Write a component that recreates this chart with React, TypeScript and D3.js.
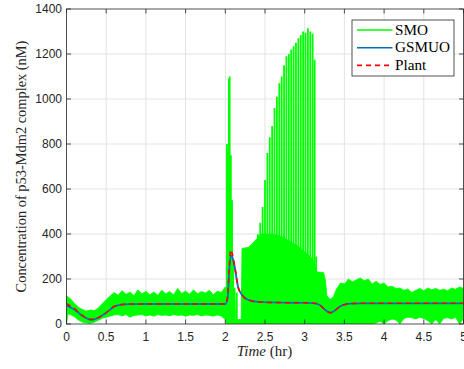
import React from "react";
import * as d3 from "d3";

// SMO band envelope
const smoT = [0, 0.02, 0.05, 0.1, 0.15, 0.2, 0.25, 0.3, 0.35, 0.4, 0.45, 0.5, 0.55, 0.6, 0.65, 0.7, 0.75, 0.8, 0.85, 0.9, 0.95, 1.0, 1.05, 1.1, 1.15, 1.2, 1.25, 1.3, 1.35, 1.4, 1.45, 1.5, 1.55, 1.6, 1.65, 1.7, 1.75, 1.8, 1.85, 1.9, 1.95, 2.0, 2.02, 2.12, 2.13, 2.2, 2.21, 2.3, 2.4, 2.45, 2.5, 2.6, 2.7, 2.8, 2.9, 3.0, 3.1, 3.12, 3.15, 3.24, 3.26, 3.28, 3.32, 3.36, 3.4, 3.45, 3.5, 3.55, 3.6, 3.65, 3.7, 3.75, 3.8, 3.85, 3.9, 3.95, 4.0, 4.05, 4.1, 4.15, 4.2, 4.25, 4.3, 4.35, 4.4, 4.45, 4.5, 4.55, 4.6, 4.65, 4.7, 4.75, 4.8, 4.85, 4.9, 4.95, 5.0];
const smoHigh = [126, 120, 112, 92, 74, 64, 58, 62, 60, 70, 90, 108, 124, 140, 128, 148, 132, 142, 126, 152, 134, 146, 130, 142, 128, 150, 134, 144, 130, 158, 136, 146, 132, 152, 134, 144, 138, 150, 130, 146, 140, 165, 150, 150, 20, 20, 335, 342, 380, 400, 400, 400, 390, 370, 350, 320, 290, 260, 232, 228, 196, 125, 110, 120, 155, 182, 178, 200, 188, 196, 205, 192, 200, 178, 190, 176, 182, 165, 168, 158, 160, 150, 156, 140, 150, 158, 148, 160, 152, 158, 150, 155, 148, 160, 155, 165, 158];
const smoLow = [0, 45, 42, 32, 18, 8, 5, 3, 8, 16, 26, 30, 35, 40, 42, 36, 42, 30, 38, 40, 42, 36, 40, 35, 42, 38, 40, 36, 42, 38, 40, 35, 40, 38, 42, 36, 40, 38, 35, 40, 35, 20, 0, 0, 0, 0, 0, 0, 0, 0, 0, 0, 0, 0, 0, 0, 0, 0, 0, 0, 0, 0, 0, 0, 0, 0, 0, 0, 0, 0, 0, 0, 0, 0, 5, 12, 0, 15, 22, 18, 0, 25, 30, 28, 22, 30, 25, 15, 0, 20, 0, 25, 28, 22, 30, 0, 25];

// SMO chattering spikes
const spikeT = [2.02, 2.035, 2.045, 2.055, 2.07, 2.085, 2.1, 2.115, 2.145, 2.41, 2.44, 2.47, 2.5, 2.53, 2.56, 2.59, 2.62, 2.65, 2.68, 2.71, 2.74, 2.77, 2.8, 2.83, 2.86, 2.89, 2.92, 2.95, 2.98, 3.01, 3.04, 3.07, 3.1, 3.125, 3.145];
const spikePeak = [800, 780, 1090, 1100, 750, 550, 290, 160, 140, 400, 450, 520, 640, 760, 830, 880, 960, 1010, 1070, 1100, 1150, 1190, 1200, 1220, 1235, 1250, 1270, 1285, 1300, 1295, 1315, 1300, 1290, 1175, 300];

// GSMUO and Plant
const ctrlT = [0, 0.1, 0.2, 0.3, 0.35, 0.4, 0.5, 0.6, 0.7, 0.8, 1.0, 1.5, 2.0, 2.03, 2.05, 2.07, 2.09, 2.12, 2.16, 2.21, 2.29, 2.42, 2.7, 3.05, 3.13, 3.19, 3.26, 3.32, 3.38, 3.44, 3.51, 3.57, 3.7, 4.0, 4.5, 5.0];
const plant = [90, 68, 38, 20, 21, 28, 50, 78, 87, 89, 89, 89, 89, 130, 260, 330, 310, 253, 166, 129, 107, 98, 95, 94, 92, 84, 62, 50, 60, 77, 87, 91, 92, 92, 92, 92];
const gsmuo = [82, 64, 36, 20, 21, 28, 50, 77, 86, 88, 89, 89, 89, 115, 240, 305, 295, 250, 166, 129, 107, 98, 95, 94, 92, 84, 62, 50, 60, 77, 87, 91, 92, 92, 92, 92];

const xTicks = [0, 0.5, 1, 1.5, 2, 2.5, 3, 3.5, 4, 4.5, 5];
const yTicks = [0, 200, 400, 600, 800, 1000, 1200, 1400];

const legendNames = ["SMO", "GSMUO", "Plant"];

const W = 464;
const H = 369;
const margin = { top: 9, right: 0.5, bottom: 45, left: 66.5 };
const axisColor = "#262626";
const gridColor = "#e3e3e3";
const smoColor = "#00ff00";
const gsmuoColor = "#0072bd";
const plantColor = "#ff0000";

const App = () => {
  const x = d3.scaleLinear().domain([0, 5]).range([margin.left, W - margin.right]);
  const y = d3.scaleLinear().domain([0, 1400]).range([H - margin.bottom, margin.top]);
  const x0 = x.range()[0], x1 = x.range()[1];
  const y0 = y.range()[0], y1 = y.range()[1];

  const band = d3.area<number>()
    .x(i => x(smoT[i]))
    .y0(i => y(smoLow[i]))
    .y1(i => y(smoHigh[i]));
  const bandPath = band(smoT.map((_, i) => i)) || "";

  const ctrlLine = (vals: number[]) =>
    d3.line<number>()
      .x(i => x(ctrlT[i]))
      .y(i => y(vals[i]))
      .curve(d3.curveMonotoneX)(ctrlT.map((_, i) => i)) || "";

  const tickLen = 4.5;
  const serif = "'Liberation Serif', 'Times New Roman', serif";
  const sans = "'Liberation Sans', Arial, Helvetica, sans-serif";

  const legendX = 352, legendY = 20, legendW = 102, legendH = 56;
  const legendColors = [smoColor, gsmuoColor, plantColor];

  return (
    <svg width={W} height={H} style={{ position: "absolute", left: 0, top: 0, background: "#fff" }}>
      <defs>
        <clipPath id="plotClip">
          <rect x={x0} y={y1} width={x1 - x0} height={y0 - y1} />
        </clipPath>
      </defs>
      <rect x={0} y={0} width={W} height={H} fill="#fff" />

      {/* grid */}
      <g stroke={gridColor} strokeWidth={1}>
        {xTicks.slice(1, -1).map(t => (
          <line key={"gx" + t} x1={x(t)} x2={x(t)} y1={y1} y2={y0} />
        ))}
        {yTicks.slice(1, -1).map(t => (
          <line key={"gy" + t} x1={x0} x2={x1} y1={y(t)} y2={y(t)} />
        ))}
      </g>

      {/* data */}
      <g clipPath="url(#plotClip)">
        <path d={bandPath} fill={smoColor} stroke={smoColor} strokeWidth={0.8} />
        <g stroke={smoColor} strokeWidth={1.8}>
          {spikeT.map((t, i) => (
            <line key={"sp" + i} x1={x(t)} x2={x(t)} y1={y(0)} y2={y(spikePeak[i])} />
          ))}
        </g>
        <path d={ctrlLine(gsmuo)} fill="none" stroke={gsmuoColor} strokeWidth={1.8} />
        <path d={ctrlLine(plant)} fill="none" stroke={plantColor} strokeWidth={1.6} strokeDasharray="5 4" />
      </g>

      {/* axes box and ticks */}
      <g stroke={axisColor} strokeWidth={0.8} fill="none">
        <rect x={x0} y={y1} width={x1 - x0} height={y0 - y1} />
        {xTicks.map(t => (
          <g key={"tx" + t}>
            <line x1={x(t)} x2={x(t)} y1={y0} y2={y0 - tickLen} />
            <line x1={x(t)} x2={x(t)} y1={y1} y2={y1 + tickLen} />
          </g>
        ))}
        {yTicks.map(t => (
          <g key={"ty" + t}>
            <line x1={x0} x2={x0 + tickLen} y1={y(t)} y2={y(t)} />
            <line x1={x1} x2={x1 - tickLen} y1={y(t)} y2={y(t)} />
          </g>
        ))}
      </g>

      {/* tick labels */}
      <g fontFamily={sans} fontSize={12} fill={axisColor}>
        {xTicks.map(t => (
          <text key={"lx" + t} x={x(t)} y={341} textAnchor="middle">{String(t)}</text>
        ))}
        {yTicks.map(t => (
          <text key={"ly" + t} x={62} y={y(t) + 4.3} textAnchor="end">{String(t)}</text>
        ))}
      </g>

      {/* axis labels */}
      <text x={264.5} y={356} textAnchor="middle" fontFamily={serif} fontSize={15} fill={axisColor}>
        <tspan fontStyle="italic">Time</tspan> (hr)
      </text>
      <text
        transform={`translate(26,${166.5}) rotate(-90)`}
        textAnchor="middle"
        fontFamily={serif}
        fontSize={14.4}
        fill={axisColor}
      >
        Concentration of p53-Mdm2 complex (nM)
      </text>

      {/* legend */}
      <g>
        <rect x={legendX} y={legendY} width={legendW} height={legendH} fill="#fff" stroke={axisColor} strokeWidth={0.8} />
        {legendNames.map((name, i) => {
          const ly = legendY + 10 + i * 17.7;
          return (
            <g key={name}>
              <line
                x1={legendX + 5}
                x2={legendX + 40.5}
                y1={ly}
                y2={ly}
                stroke={legendColors[i]}
                strokeWidth={1.6}
                strokeDasharray={i === 2 ? "5 4" : undefined}
              />
              <text x={legendX + 43} y={ly + 4.5} fontFamily={serif} fontSize={15.2} fill="#000">{name}</text>
            </g>
          );
        })}
      </g>
    </svg>
  );
};

export default App;
